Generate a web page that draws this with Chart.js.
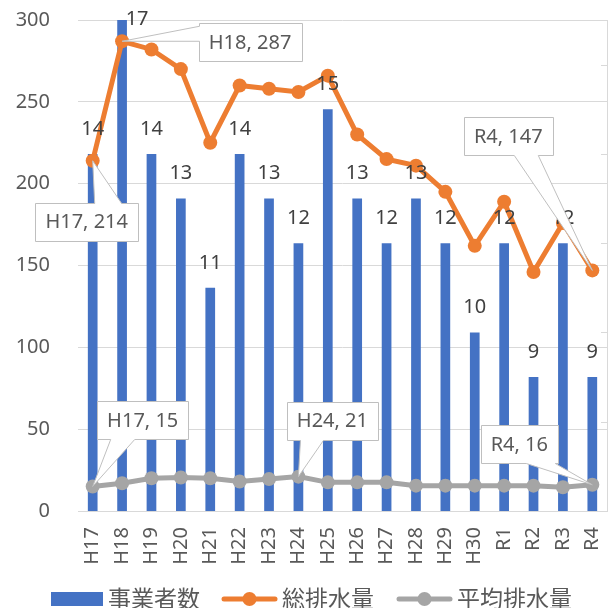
<!DOCTYPE html>
<html>
<head>
  <meta charset="UTF-8">
  <title>排水量</title>
  <script src="https://cdn.jsdelivr.net/npm/chart.js"></script>
  <style>
    body { margin: 0; background: #fff; }
  </style>
</head>
<body>
<canvas id="mixChart" width="614" height="608"></canvas>

<script>
  const categories = ['H17', 'H18', 'H19', 'H20', 'H21', 'H22', 'H23', 'H24', 'H25',
    'H26', 'H27', 'H28', 'H29', 'H30', 'R1', 'R2', 'R3', 'R4'];
  const operators = [14, 17, 14, 13, 11, 14, 13, 12, 15, 13, 12, 13, 12, 10, 12, 9, 12, 9];
  const totalDischarge = [214, 287, 282, 270, 225, 260, 258, 256, 266, 230, 215, 211, 195, 162, 189, 146, 176, 147];
  const avgDischarge = [15, 17, 20, 20.5, 20, 18, 19.5, 21, 17.5, 17.5, 17.5, 15.5, 15.5, 15.5, 15.5, 15.5, 14.5, 16];
  const seriesNames = ['事業者数', '総排水量', '平均排水量'];

  const BLUE = '#4472C4', ORANGE = '#ED7D31', GRAY = '#A5A5A5';
  const GRID = '#D9D9D9', TEXT = '#595959';
  const FONT = '"Noto Sans", sans-serif';

  // callouts (Excel style) : dataset, point, box offset from point, pointer base along one edge
  const callouts = [
    { ds: 1, i: 0,  dx: -6,    dy: 61,  edge: 'top',    b0: 8,   b1: 35 },
    { ds: 1, i: 1,  dx: 128,   dy: 1,   edge: 'left',   b0: -16, b1: -1 },
    { ds: 1, i: 17, dx: -84,   dy: -134, edge: 'bottom', b0: 6,  b1: 30 },
    { ds: 2, i: 0,  dx: 50,    dy: -66, edge: 'bottom', b0: -32, b1: -8 },
    { ds: 2, i: 7,  dx: 34,    dy: -56, edge: 'bottom', b0: -32, b1: -9 },
    { ds: 2, i: 17, dx: -73,   dy: -41, edge: 'bottom', b0: 7,   b1: 36 }
  ];

  function drawCallout(ctx, tip, c, text) {
    ctx.font = '20px ' + FONT;
    const w = Math.round(ctx.measureText(text).width + 20), h = 38;
    const cx = tip.x + c.dx, cy = tip.y + c.dy;
    const x0 = Math.round(cx - w / 2) + 0.5, y0 = Math.round(cy - h / 2) + 0.5;
    const x1 = x0 + w, y1 = y0 + h;
    ctx.beginPath();
    ctx.moveTo(x0, y0);
    if (c.edge === 'top') { ctx.lineTo(cx + c.b0, y0); ctx.lineTo(tip.x, tip.y); ctx.lineTo(cx + c.b1, y0); }
    ctx.lineTo(x1, y0);
    ctx.lineTo(x1, y1);
    if (c.edge === 'bottom') { ctx.lineTo(cx + c.b1, y1); ctx.lineTo(tip.x, tip.y); ctx.lineTo(cx + c.b0, y1); }
    ctx.lineTo(x0, y1);
    if (c.edge === 'left') { ctx.lineTo(x0, cy + c.b1); ctx.lineTo(tip.x, tip.y); ctx.lineTo(x0, cy + c.b0); }
    ctx.closePath();
    ctx.fillStyle = '#fff';
    ctx.fill();
    ctx.strokeStyle = '#BFBFBF';
    ctx.lineWidth = 1;
    ctx.stroke();
    ctx.fillStyle = TEXT;
    ctx.textAlign = 'center';
    ctx.textBaseline = 'middle';
    ctx.fillText(text, cx, cy + 1);
  }

  const extras = {
    id: 'extras',
    afterDatasetsDraw(chart) {
      const ctx = chart.ctx, area = chart.chartArea;
      const y2 = chart.scales.y2;
      ctx.save();

      // right axis line with inner tick marks (labels fall outside the picture)
      ctx.strokeStyle = GRID;
      ctx.lineWidth = 1;
      ctx.beginPath();
      ctx.moveTo(area.right + 0.5, area.top);
      ctx.lineTo(area.right + 0.5, area.bottom);
      for (let v = 6; v <= 16; v += 2) {
        const py = Math.round(y2.getPixelForValue(v)) + 0.5;
        ctx.moveTo(area.right - 6, py);
        ctx.lineTo(area.right, py);
      }
      ctx.stroke();

      // bar value labels (pushed aside when they hit the top)
      ctx.font = '20px ' + FONT;
      ctx.fillStyle = '#404040';
      ctx.textAlign = 'center';
      ctx.textBaseline = 'middle';
      chart.getDatasetMeta(0).data.forEach((bar, i) => {
        const ty = bar.y - 25;
        if (ty < 18) ctx.fillText(String(operators[i]), bar.x + 15, 19);
        else ctx.fillText(String(operators[i]), bar.x, ty);
      });

      // callouts
      callouts.forEach(c => {
        const pt = chart.getDatasetMeta(c.ds).data[c.i];
        const val = chart.data.datasets[c.ds].data[c.i];
        drawCallout(ctx, { x: pt.x, y: pt.y }, c, categories[c.i] + ', ' + Math.round(val));
      });

      // legend
      const ly = 598;
      let x = 51;
      ctx.font = '23px "Noto Sans CJK JP", sans-serif';
      ctx.textAlign = 'left';
      ctx.textBaseline = 'middle';
      ctx.fillStyle = BLUE;
      ctx.fillRect(x, ly - 6, 52, 14);
      x += 57;
      ctx.fillStyle = TEXT;
      ctx.fillText(seriesNames[0], x, ly);
      x += ctx.measureText(seriesNames[0]).width + 22;
      [[ORANGE, seriesNames[1]], [GRAY, seriesNames[2]]].forEach(([col, name]) => {
        ctx.strokeStyle = col;
        ctx.lineWidth = 5;
        ctx.lineCap = 'round';
        ctx.beginPath();
        ctx.moveTo(x + 2, ly + 1);
        ctx.lineTo(x + 53, ly + 1);
        ctx.stroke();
        ctx.fillStyle = col;
        ctx.beginPath();
        ctx.arc(x + 27.5, ly + 1, 7, 0, Math.PI * 2);
        ctx.fill();
        x += 60;
        ctx.fillStyle = TEXT;
        ctx.fillText(name, x, ly);
        x += ctx.measureText(name).width + 23;
      });
      ctx.restore();
    }
  };

  function noPadding(scale) {
    scale.paddingLeft = 0;
    scale.paddingRight = 0;
    scale.paddingTop = 0;
    scale.paddingBottom = 0;
  }

  new Chart(document.getElementById('mixChart'), {
    type: 'bar',
    data: {
      labels: categories,
      datasets: [
        {
          type: 'bar',
          label: seriesNames[0],
          data: operators,
          yAxisID: 'y2',
          backgroundColor: BLUE,
          barPercentage: 0.33,
          categoryPercentage: 1,
          order: 3
        },
        {
          type: 'line',
          label: seriesNames[1],
          data: totalDischarge,
          yAxisID: 'y',
          borderColor: ORANGE,
          backgroundColor: ORANGE,
          borderWidth: 5,
          pointRadius: 7,
          pointBorderWidth: 0,
          tension: 0,
          order: 1
        },
        {
          type: 'line',
          label: seriesNames[2],
          data: avgDischarge,
          yAxisID: 'y',
          borderColor: GRAY,
          backgroundColor: GRAY,
          borderWidth: 5,
          pointRadius: 7,
          pointBorderWidth: 0,
          tension: 0,
          order: 2
        }
      ]
    },
    options: {
      responsive: false,
      animation: false,
      devicePixelRatio: 1,
      layout: { padding: { top: 20, right: 3, left: 0, bottom: 0 } },
      plugins: {
        legend: { display: false },
        tooltip: { enabled: false }
      },
      scales: {
        x: {
          offset: true,
          grid: { display: false, drawTicks: false },
          border: { color: GRID },
          ticks: {
            color: TEXT,
            font: { family: FONT, size: 20 },
            minRotation: 90,
            maxRotation: 90,
            autoSkip: false,
            padding: 16
          },
          afterFit(scale) { scale.height = 97; noPadding(scale); }
        },
        y: {
          min: 0,
          max: 300,
          grid: { color: GRID, drawTicks: false },
          border: { display: false },
          ticks: {
            stepSize: 50,
            color: TEXT,
            font: { family: FONT, size: 20 },
            padding: 28
          },
          afterFit(scale) { scale.width = 78; noPadding(scale); }
        },
        y2: {
          position: 'right',
          min: 6,
          max: 17,
          display: false
        }
      }
    },
    plugins: [extras]
  });
</script>
</body>
</html>
